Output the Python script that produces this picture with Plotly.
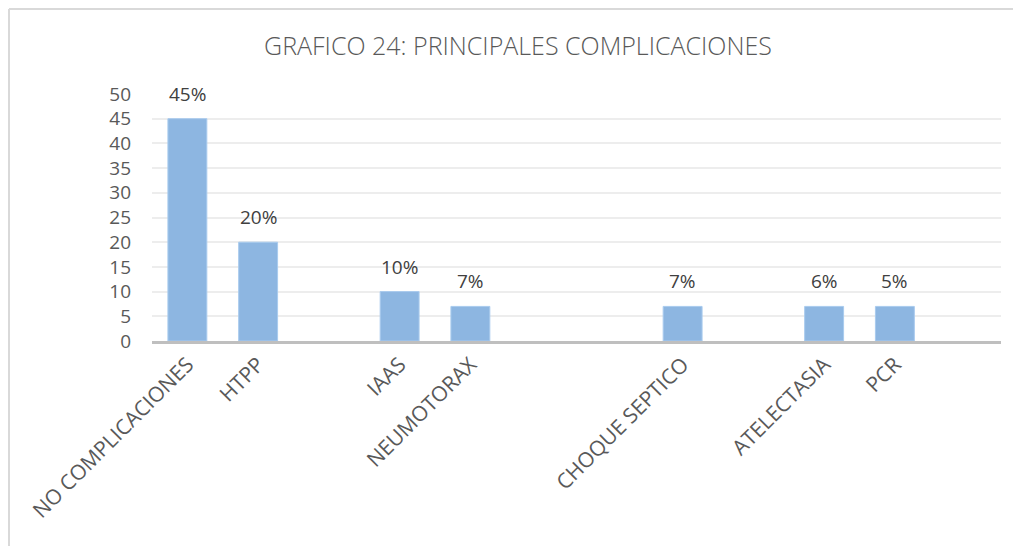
import plotly.graph_objects as go

# Categories (blank slots are empty categories in the original chart)
categories = ["NO COMPLICACIONES", "HTPP", "", "IAAS", "NEUMOTORAX", "", "",
              "CHOQUE SEPTICO", "", "ATELECTASIA", "PCR", ""]
values = [45, 20, None, 10, 7, None, None, 7, None, 7, 7, None]
labels = ["45%", "20%", "", "10%", "7%", "", "", "7%", "", "6%", "5%", ""]
y_ticks = [0, 5, 10, 15, 20, 25, 30, 35, 40, 45, 50]

# the page body adds an 8px offset, so the figure is a bit smaller than the window
W, H = 1013, 538
ml, mr, mt, mb = 144, 20, 86, 205
pw, ph = W - ml - mr, H - mt - mb

xs = list(range(len(categories)))

fig = go.Figure()
fig.add_trace(go.Bar(
    x=xs, y=values, width=0.55,
    marker=dict(color="#8DB6E1", line=dict(color="#A9CBEE", width=1)),
    hoverinfo="skip",
))

annotations = []
for x, v, t in zip(xs, values, labels):
    if v is None:
        continue
    annotations.append(dict(x=x, y=v, text=t, showarrow=False, yanchor="bottom",
                            yshift=10, font=dict(family="Open Sans", size=19, color="#404040")))

# frame around the chart (top and left edges visible)
fx0 = (1 - ml) / pw
fy0 = (H - mb - 1) / ph
fy1 = (H - mb - 540) / ph
shapes = [
    dict(type="line", xref="paper", yref="paper", x0=fx0, x1=(W + 10 - ml) / pw, y0=fy0, y1=fy0,
         line=dict(color="#D9D9D9", width=2)),
    dict(type="line", xref="paper", yref="paper", x0=fx0, x1=fx0, y0=fy0, y1=fy1,
         line=dict(color="#D9D9D9", width=2)),
]

fig.update_layout(
    width=W, height=H,
    margin=dict(l=ml, r=mr, t=mt, b=mb),
    paper_bgcolor="white", plot_bgcolor="white",
    showlegend=False,
    title=dict(text="GRAFICO 24: PRINCIPALES COMPLICACIONES", x=510 / W,
               xanchor="center", y=1 - 38 / H, yanchor="middle",
               font=dict(family="Open Sans", size=25, color="#595959", weight=300)),
    xaxis=dict(
        tickmode="array", tickvals=xs, ticktext=categories, tickangle=-45,
        range=[-0.5, len(categories) - 0.5],
        showline=True, linecolor="#BFBFBF", linewidth=3,
        showgrid=False, ticks="",
        tickfont=dict(family="Open Sans", size=21, color="#595959"),
    ),
    yaxis=dict(
        range=[0, 50], tickmode="array", tickvals=y_ticks,
        showgrid=True, gridcolor="#EDEDED", gridwidth=1.5,
        zeroline=False, showline=False,
        ticklabelstandoff=20,
        tickfont=dict(family="Open Sans", size=19, color="#595959"),
    ),
    annotations=annotations,
    shapes=shapes,
)
fig.update_traces(cliponaxis=False)

fig.write_html("out.html")
